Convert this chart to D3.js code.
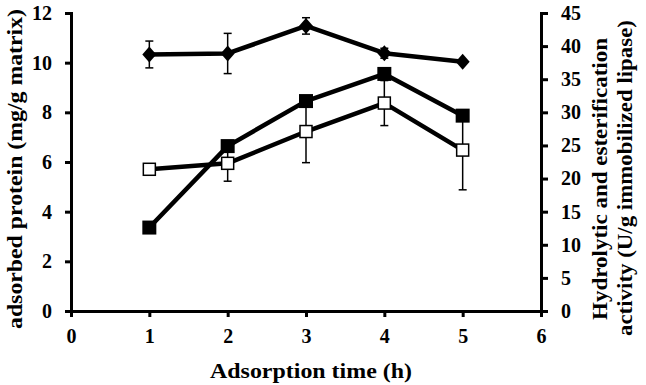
<!DOCTYPE html>
<html lang="en">
<head>
    <meta charset="UTF-8">
    <title>Adsorption time</title>
    <script src="https://d3js.org/d3.v7.min.js"></script>
    <style>
        body { margin: 0; background: #fff; }
        text { font-family: "Liberation Serif", "Times New Roman", serif; font-weight: bold; fill: #000; }
    </style>
</head>
<body>
    <svg width="646" height="385"></svg>

    <script>
        // data
        const times = [1, 2, 3, 4, 5];
        // adsorbed protein (left axis), filled diamonds
        const protein = [10.33, 10.37, 11.48, 10.38, 10.04];
        const proteinErr = [0.54, 0.81, 0.33, 0.2, 0];
        // activities (right axis)
        const hydrolytic = [12.6, 24.9, 31.7, 35.8, 29.5];      // filled squares
        const esterification = [21.4, 22.3, 27.1, 31.4, 24.3];  // open squares
        const esterErr = [0, 2.7, 4.7, 3.4, 6.0];

        const xTicks = [0, 1, 2, 3, 4, 5, 6];
        const yLeftTicks = [0, 2, 4, 6, 8, 10, 12];
        const yRightTicks = [0, 5, 10, 15, 20, 25, 30, 35, 40, 45];

        const margin = {top: 13, right: 105, bottom: 74, left: 71};
        const width = 646, height = 385;

        const svg = d3.select("svg");

        const x = d3.scaleLinear().domain([0, 6]).range([margin.left, width - margin.right]);
        const yL = d3.scaleLinear().domain([0, 12]).range([height - margin.bottom, margin.top]);
        const yR = d3.scaleLinear().domain([0, 45]).range([height - margin.bottom, margin.top]);

        // axes
        const styleAxis = g => {
            g.select(".domain").attr("stroke-width", 3);
            g.selectAll(".tick line").attr("stroke-width", 3);
            g.selectAll(".tick text").style("font-size", "20px");
        };

        svg.append("g")
            .attr("transform", `translate(0,${height - margin.bottom})`)
            .call(d3.axisBottom(x).tickValues(xTicks).tickFormat(d3.format("d")).tickSizeOuter(0).tickSize(6).tickPadding(12))
            .call(styleAxis);

        svg.append("g")
            .attr("transform", `translate(${margin.left},0)`)
            .call(d3.axisLeft(yL).tickValues(yLeftTicks).tickSizeOuter(0).tickSize(6).tickPadding(13))
            .call(styleAxis);

        svg.append("g")
            .attr("transform", `translate(${width - margin.right},0)`)
            .call(d3.axisRight(yR).tickValues(yRightTicks).tickSizeOuter(0).tickSize(7).tickPadding(13))
            .call(styleAxis);

        // axis titles (lengths matched to the figure)
        svg.append("text")
            .attr("text-anchor", "middle")
            .attr("x", 311)
            .attr("y", 378)
            .attr("textLength", 202)
            .attr("lengthAdjust", "spacingAndGlyphs")
            .style("font-size", "21px")
            .text("Adsorption time (h)");

        svg.append("text")
            .attr("text-anchor", "middle")
            .attr("transform", "translate(22,169) rotate(-90)")
            .attr("textLength", 320)
            .attr("lengthAdjust", "spacingAndGlyphs")
            .style("font-size", "21px")
            .text("adsorbed protein (mg/g matrix)");

        svg.append("text")
            .attr("text-anchor", "middle")
            .attr("transform", "translate(607,179) rotate(-90)")
            .attr("textLength", 282)
            .attr("lengthAdjust", "spacingAndGlyphs")
            .style("font-size", "21px")
            .text("Hydrolytic and esterification");

        svg.append("text")
            .attr("text-anchor", "middle")
            .attr("transform", "translate(632,178) rotate(-90)")
            .attr("textLength", 316)
            .attr("lengthAdjust", "spacingAndGlyphs")
            .style("font-size", "21px")
            .text("activity (U/g immobilized lipase)");

        // error bars
        function errorBars(vals, errs, y) {
            const g = svg.append("g").attr("stroke", "#000").attr("stroke-width", 1.5);
            times.forEach((t, i) => {
                if (!errs[i]) return;
                const cx = x(t);
                const y1 = y(vals[i] + errs[i]), y2 = y(vals[i] - errs[i]);
                g.append("line").attr("x1", cx).attr("x2", cx).attr("y1", y1).attr("y2", y2);
                g.append("line").attr("x1", cx - 4).attr("x2", cx + 4).attr("y1", y1).attr("y2", y1);
                g.append("line").attr("x1", cx - 4).attr("x2", cx + 4).attr("y1", y2).attr("y2", y2);
            });
        }

        function seriesLine(vals, y) {
            svg.append("path")
                .datum(vals)
                .attr("fill", "none")
                .attr("stroke", "#000")
                .attr("stroke-width", 4.5)
                .attr("stroke-linejoin", "round")
                .attr("d", d3.line().x((d, i) => x(times[i])).y(d => y(d)));
        }

        errorBars(esterification, esterErr, yR);
        errorBars(protein, proteinErr, yL);

        seriesLine(esterification, yR);
        seriesLine(hydrolytic, yR);
        seriesLine(protein, yL);

        // markers
        svg.append("g").selectAll("rect")
            .data(esterification)
            .join("rect")
            .attr("x", (d, i) => x(times[i]) - 6)
            .attr("y", d => yR(d) - 6)
            .attr("width", 12)
            .attr("height", 12)
            .attr("fill", "#fff")
            .attr("stroke", "#000")
            .attr("stroke-width", 1.5);

        svg.append("g").selectAll("rect")
            .data(hydrolytic)
            .join("rect")
            .attr("x", (d, i) => x(times[i]) - 7)
            .attr("y", d => yR(d) - 7)
            .attr("width", 14)
            .attr("height", 14)
            .attr("fill", "#000");

        svg.append("g").selectAll("path")
            .data(protein)
            .join("path")
            .attr("transform", (d, i) => `translate(${x(times[i])},${yL(d)})`)
            .attr("d", "M0,-8L7,0L0,8L-7,0Z")
            .attr("fill", "#000");
    </script>
</body>
</html>
